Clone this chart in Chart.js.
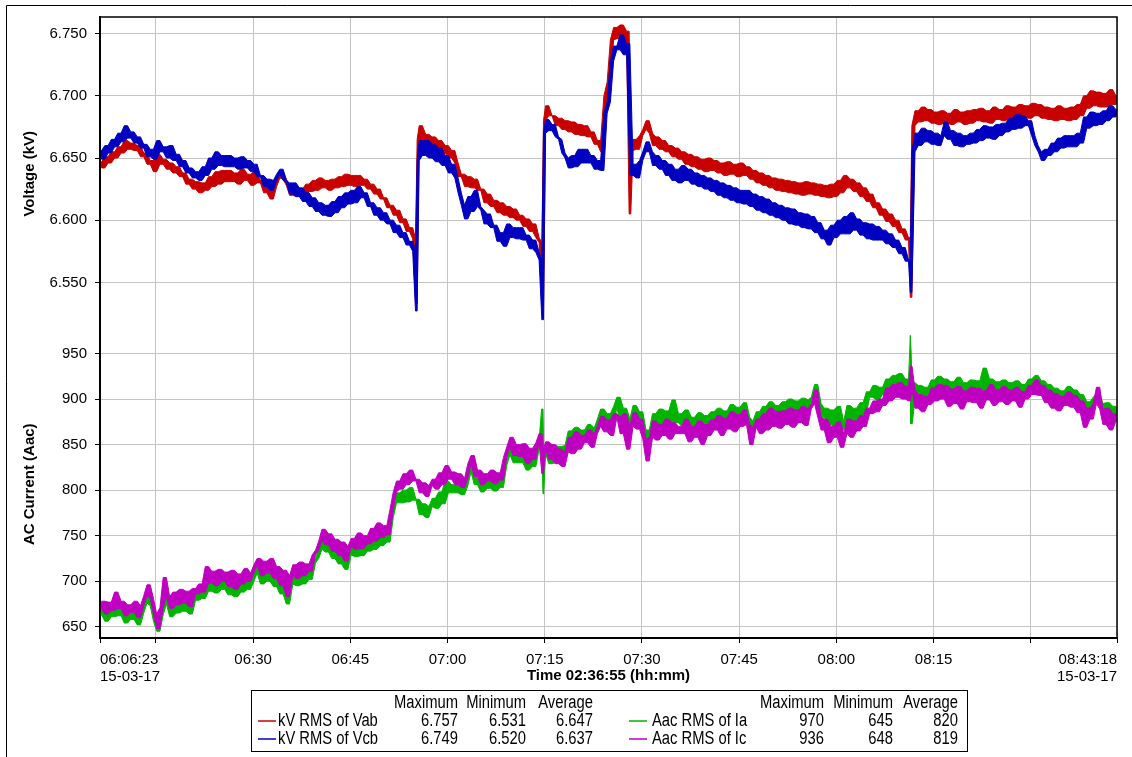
<!DOCTYPE html>
<html>
<head>
<meta charset="utf-8">
<script src="https://cdn.jsdelivr.net/npm/chart.js@4.4.1/dist/chart.umd.min.js"></script>
<style>
  html, body { margin: 0; padding: 0; background: #fff; overflow: hidden; }
  canvas { display: block; }
</style>
</head>
<body>
<canvas id="chart" width="1132" height="757"></canvas>
<script>
// Recording window and sampling
const startTime = '06:06:23';
const endTime = '08:43:18';
const recordDate = '15-03-17';
const sampleSeconds = 30;

// Time axis ticks between the two end stamps
const tickTimes = ['06:15', '06:30', '06:45', '07:00', '07:15', '07:30', '07:45', '08:00', '08:15', '08:30'];
const tickTimeLabels = ['', '06:30', '06:45', '07:00', '07:15', '07:30', '07:45', '08:00', '08:15', ''];
const kvTicks = [6.55, 6.60, 6.65, 6.70, 6.75];
const aacTicks = [650, 700, 750, 800, 850, 900, 950];

// kV RMS of Vab, one value every 30 s
const kvVab = [
  6.647, 6.642, 6.651, 6.646, 6.655, 6.650, 6.659, 6.654, 6.664, 6.657,
  6.662, 6.656, 6.660, 6.651, 6.654, 6.645, 6.648, 6.639, 6.653, 6.645,
  6.649, 6.641, 6.646, 6.638, 6.643, 6.635, 6.638, 6.629, 6.633, 6.625,
  6.631, 6.622, 6.630, 6.624, 6.635, 6.627, 6.639, 6.629, 6.640, 6.631,
  6.640, 6.631, 6.638, 6.629, 6.641, 6.632, 6.637, 6.628, 6.639, 6.630,
  6.632, 6.622, 6.628, 6.617, 6.627, 6.634, 6.640, 6.633, 6.628, 6.620,
  6.627, 6.619, 6.625, 6.617, 6.629, 6.623, 6.632, 6.624, 6.634, 6.626,
  6.632, 6.624, 6.633, 6.626, 6.635, 6.627, 6.637, 6.628, 6.636, 6.627,
  6.636, 6.628, 6.633, 6.625, 6.629, 6.621, 6.625, 6.617, 6.618, 6.610,
  6.612, 6.604, 6.608, 6.598, 6.601, 6.591, 6.594, 6.585, 6.665, 6.676,
  6.663, 6.669, 6.659, 6.667, 6.656, 6.664, 6.654, 6.660, 6.650, 6.656,
  6.646, 6.635, 6.637, 6.627, 6.635, 6.626, 6.633, 6.624, 6.625, 6.614,
  6.621, 6.611, 6.616, 6.606, 6.614, 6.604, 6.611, 6.602, 6.609, 6.600,
  6.604, 6.595, 6.601, 6.591, 6.597, 6.586, 6.582, 6.680, 6.692, 6.684,
  6.684, 6.676, 6.682, 6.673, 6.680, 6.671, 6.679, 6.669, 6.677, 6.668,
  6.676, 6.667, 6.671, 6.661, 6.664, 6.655, 6.700, 6.711, 6.745, 6.755,
  6.746, 6.757, 6.744, 6.752, 6.656, 6.665, 6.657, 6.668, 6.673, 6.680,
  6.670, 6.660, 6.667, 6.657, 6.664, 6.655, 6.660, 6.651, 6.658, 6.649,
  6.655, 6.645, 6.653, 6.643, 6.651, 6.641, 6.649, 6.639, 6.650, 6.640,
  6.648, 6.638, 6.646, 6.636, 6.647, 6.637, 6.645, 6.635, 6.646, 6.636,
  6.643, 6.633, 6.640, 6.630, 6.638, 6.628, 6.636, 6.626, 6.634, 6.624,
  6.633, 6.623, 6.632, 6.622, 6.631, 6.621, 6.630, 6.620, 6.631, 6.621,
  6.630, 6.620, 6.629, 6.619, 6.628, 6.618, 6.629, 6.619, 6.632, 6.622,
  6.636, 6.626, 6.633, 6.623, 6.630, 6.619, 6.626, 6.615, 6.621, 6.610,
  6.614, 6.604, 6.609, 6.599, 6.605, 6.595, 6.600, 6.590, 6.593, 6.584,
  6.586, 6.676, 6.688, 6.679, 6.691, 6.680, 6.689, 6.678, 6.687, 6.677,
  6.688, 6.678, 6.686, 6.677, 6.689, 6.679, 6.687, 6.677, 6.688, 6.678,
  6.689, 6.680, 6.690, 6.679, 6.688, 6.678, 6.691, 6.681, 6.689, 6.680,
  6.692, 6.682, 6.691, 6.681, 6.693, 6.683, 6.692, 6.682, 6.694, 6.684,
  6.693, 6.682, 6.691, 6.681, 6.690, 6.680, 6.692, 6.681, 6.690, 6.680,
  6.691, 6.681, 6.693, 6.684, 6.700, 6.690, 6.704, 6.692, 6.703, 6.691,
  6.702, 6.691, 6.705, 6.693, 6.700
];

// kV RMS of Vcb
const kvVcb = [
  6.656, 6.649, 6.660, 6.654, 6.665, 6.659, 6.670, 6.663, 6.676, 6.666,
  6.671, 6.662, 6.667, 6.658, 6.661, 6.651, 6.657, 6.649, 6.664, 6.655,
  6.659, 6.650, 6.660, 6.648, 6.653, 6.643, 6.648, 6.638, 6.642, 6.634,
  6.639, 6.632, 6.643, 6.636, 6.650, 6.641, 6.655, 6.644, 6.652, 6.643,
  6.652, 6.643, 6.650, 6.641, 6.651, 6.642, 6.648, 6.639, 6.645, 6.635,
  6.636, 6.627, 6.633, 6.624, 6.632, 6.637, 6.641, 6.632, 6.630, 6.621,
  6.630, 6.619, 6.626, 6.615, 6.622, 6.611, 6.618, 6.607, 6.614, 6.604,
  6.612, 6.603, 6.615, 6.606, 6.619, 6.610, 6.622, 6.613, 6.624, 6.614,
  6.627, 6.618, 6.622, 6.611, 6.614, 6.604, 6.610, 6.600, 6.606, 6.597,
  6.600, 6.590, 6.596, 6.586, 6.590, 6.580, 6.583, 6.575, 6.648, 6.664,
  6.652, 6.664, 6.650, 6.661, 6.647, 6.658, 6.644, 6.652, 6.638, 6.645,
  6.634, 6.622, 6.612, 6.601, 6.619, 6.607, 6.624, 6.611, 6.608, 6.597,
  6.605, 6.594, 6.596, 6.583, 6.590, 6.579, 6.597, 6.586, 6.594, 6.585,
  6.594, 6.584, 6.588, 6.577, 6.584, 6.574, 6.568, 6.670, 6.681, 6.672,
  6.677, 6.667, 6.665, 6.654, 6.650, 6.642, 6.652, 6.643, 6.657, 6.646,
  6.657, 6.646, 6.652, 6.641, 6.648, 6.640, 6.686, 6.695, 6.728, 6.740,
  6.737, 6.749, 6.733, 6.742, 6.636, 6.645, 6.634, 6.648, 6.655, 6.663,
  6.655, 6.644, 6.652, 6.641, 6.648, 6.636, 6.645, 6.632, 6.641, 6.630,
  6.644, 6.632, 6.641, 6.629, 6.638, 6.627, 6.636, 6.625, 6.634, 6.623,
  6.632, 6.620, 6.630, 6.618, 6.628, 6.616, 6.626, 6.614, 6.624, 6.613,
  6.624, 6.611, 6.621, 6.608, 6.619, 6.606, 6.617, 6.604, 6.614, 6.602,
  6.612, 6.600, 6.610, 6.597, 6.609, 6.596, 6.606, 6.594, 6.605, 6.593,
  6.603, 6.590, 6.598, 6.585, 6.592, 6.580, 6.596, 6.586, 6.600, 6.589,
  6.603, 6.589, 6.606, 6.592, 6.601, 6.588, 6.598, 6.585, 6.597, 6.584,
  6.595, 6.584, 6.592, 6.581, 6.589, 6.578, 6.584, 6.573, 6.578, 6.567,
  6.568, 6.655, 6.670, 6.660, 6.674, 6.663, 6.672, 6.661, 6.670, 6.660,
  6.668, 6.679, 6.665, 6.672, 6.660, 6.670, 6.659, 6.668, 6.661, 6.670,
  6.662, 6.673, 6.664, 6.676, 6.666, 6.675, 6.665, 6.677, 6.668, 6.678,
  6.671, 6.682, 6.673, 6.685, 6.674, 6.684, 6.676, 6.680, 6.668, 6.660,
  6.655, 6.648, 6.657, 6.652, 6.662, 6.655, 6.666, 6.658, 6.668, 6.659,
  6.668, 6.659, 6.670, 6.662, 6.683, 6.674, 6.687, 6.676, 6.686, 6.677,
  6.688, 6.680, 6.692, 6.683, 6.689
];

// Aac RMS of Ia
const aacIa = [
  663, 671, 656, 670, 661, 680, 662, 670, 654, 666,
  658, 670, 652, 665, 676, 688, 673, 656, 645, 663,
  696, 675, 661, 680, 665, 683, 667, 680, 664, 684,
  679, 690, 681, 707, 689, 702, 687, 704, 691, 701,
  685, 703, 683, 699, 688, 705, 691, 700, 709, 716,
  697, 713, 700, 715, 694, 706, 686, 702, 675, 697,
  710, 695, 712, 697, 710, 702, 720, 725, 735, 748,
  732, 744, 725, 737, 719, 734, 713, 729, 739, 727,
  745, 728, 742, 733, 750, 735, 756, 739, 752, 743,
  770, 786, 797, 786, 800, 787, 803, 789, 790, 773,
  785, 770, 782, 791, 780, 798, 785, 810, 797, 806,
  797, 810, 795, 805, 820, 829, 806, 813, 798, 809,
  802, 814, 799, 811, 803, 827, 839, 850, 830, 842,
  830, 844, 822, 839, 826, 845, 855, 840, 848, 829,
  849, 830, 848, 832, 849, 865, 846, 869, 851, 866,
  858, 872, 852, 868, 878, 889, 871, 884, 867, 892,
  902, 872, 890, 858, 878, 893, 874, 886, 866, 848,
  866, 884, 864, 889, 870, 887, 872, 899, 874, 884,
  870, 888, 862, 880, 866, 885, 859, 882, 869, 886,
  874, 890, 866, 887, 874, 894, 871, 891, 877, 896,
  880, 861, 876, 886, 870, 892, 874, 897, 879, 893,
  880, 897, 884, 900, 879, 898, 886, 901, 882, 899,
  902, 916, 895, 880, 890, 872, 888, 870, 892, 866,
  875, 893, 870, 890, 877, 896, 884, 908, 902, 915,
  899, 913, 905, 922, 908, 926, 910, 928, 909, 922,
  908, 918, 900, 915, 896, 913, 903, 921, 909, 925,
  910, 922, 903, 919, 906, 924, 900, 918, 908, 921,
  906, 920, 910, 934, 908, 922, 902, 919, 907, 921,
  903, 918, 906, 920, 899, 916, 908, 922, 911, 926,
  911, 920, 903, 916, 897, 912, 894, 909, 899, 914,
  898, 910, 892, 905, 878, 897, 886, 902, 906, 895,
  880, 896, 874, 892, 885
];

// Aac RMS of Ic
const aacIc = [
  670, 678, 664, 677, 668, 688, 670, 678, 662, 674,
  666, 678, 660, 673, 684, 696, 681, 664, 648, 671,
  704, 683, 670, 688, 674, 691, 676, 689, 672, 692,
  686, 697, 688, 716, 698, 711, 695, 713, 700, 710,
  694, 712, 691, 708, 697, 714, 700, 709, 718, 725,
  706, 722, 709, 725, 703, 716, 695, 712, 683, 706,
  718, 703, 721, 706, 719, 711, 729, 734, 744, 757,
  740, 752, 733, 746, 728, 743, 722, 738, 747, 735,
  753, 736, 750, 741, 758, 744, 764, 748, 761, 751,
  779, 798, 810, 801, 818, 806, 822, 810, 812, 797,
  808, 793, 805, 812, 801, 819, 806, 827, 812, 820,
  806, 818, 803, 813, 829, 838, 815, 822, 806, 818,
  810, 822, 807, 819, 811, 836, 847, 858, 838, 850,
  837, 851, 829, 846, 834, 852, 862, 845, 853, 834,
  850, 829, 845, 826, 842, 858, 840, 864, 845, 860,
  852, 866, 847, 862, 870, 881, 864, 877, 860, 884,
  880, 862, 884, 845, 870, 885, 867, 878, 856, 832,
  858, 876, 855, 872, 860, 878, 856, 874, 862, 870,
  862, 878, 853, 870, 858, 876, 850, 872, 860, 877,
  866, 882, 860, 879, 867, 886, 864, 883, 870, 888,
  872, 850, 869, 878, 862, 884, 866, 890, 870, 886,
  868, 887, 872, 890, 869, 888, 874, 892, 871, 889,
  895, 910, 880, 866, 878, 852, 870, 858, 875, 847,
  862, 878, 858, 876, 865, 882, 870, 890, 884, 898,
  886, 900, 893, 912, 898, 916, 902, 918, 900, 914,
  898, 910, 890, 905, 886, 903, 894, 912, 898, 916,
  900, 915, 892, 911, 895, 914, 889, 909, 897, 913,
  896, 912, 890, 909, 899, 916, 893, 910, 897, 914,
  894, 910, 898, 913, 891, 908, 900, 915, 905, 921,
  904, 915, 896, 910, 890, 906, 887, 903, 893, 908,
  891, 904, 885, 898, 869, 890, 878, 895, 913, 889,
  872, 890, 866, 884, 876
];

// Short transients caught between samples (time, value)
const vabSpikes = [['06:55:15', 6.533], ['07:14:44', 6.531], ['07:28:10', 6.605], ['08:11:25', 6.538]];
const vcbSpikes = [['06:55:15', 6.527], ['07:14:44', 6.520], ['08:11:25', 6.542]];
const iaSpikes = [['07:14:40', 889], ['07:14:48', 796], ['08:11:26', 970], ['08:11:32', 873]];
const icSpikes = [['07:14:44', 818], ['08:11:28', 936]];

// Summary table
const seriesNames = ['kV RMS of Vab', 'kV RMS of Vcb', 'Aac RMS of Ia', 'Aac RMS of Ic'];
const statHeaders = ['Maximum', 'Minimum', 'Average'];
const statMax = ['6.757', '6.749', '970', '936'];
const statMin = ['6.531', '6.520', '645', '648'];
const statAvg = ['6.647', '6.637', '820', '819'];

const seriesColors = ['#c80000', '#0000c0', '#00b400', '#c000c0'];
const FONT = '"Liberation Sans", Arial, Helvetica, sans-serif';

const toMin = s => {
  const [h, m, sec] = s.split(':').map(Number);
  return h * 60 + m + (sec || 0) / 60;
};
const t0 = toMin(startTime);
const t1 = toMin(endTime);

// Readings plus transients, in time order
function readings(values, spikes) {
  const pts = values.map((y, i) => ({ x: t0 + i * sampleSeconds / 60, y }));
  spikes.forEach(([t, y]) => pts.push({ x: toMin(t), y }));
  return pts.sort((a, b) => a.x - b.x);
}

// Spread of each pair of neighbouring readings: the trace is drawn as the
// band it sweeps out, with its upper and lower edges as two lines
function band(values, spikes) {
  const pts = readings(values, spikes);
  const upper = [{ x: pts[0].x, y: pts[0].y }];
  const lower = [{ x: pts[0].x, y: pts[0].y }];
  for (let i = 0; i + 1 < pts.length; i++) {
    const a = pts[i], b = pts[i + 1];
    const x = (a.x + b.x) / 2;
    upper.push({ x, y: Math.max(a.y, b.y) });
    lower.push({ x, y: Math.min(a.y, b.y) });
  }
  const last = pts[pts.length - 1];
  upper.push({ x: last.x, y: last.y });
  lower.push({ x: last.x, y: last.y });
  return { upper, lower };
}

const xTickValues = [t0, ...tickTimes.map(toMin), t1];

Chart.defaults.font.family = FONT;
Chart.defaults.font.size = 15;
Chart.defaults.color = '#000';

const gridColor = '#c4c4c4';

// White page, outer frame, and the plot frame drawn over the traces
const framePlugin = {
  id: 'frames',
  beforeDraw(chart) {
    const ctx = chart.ctx;
    ctx.save();
    ctx.fillStyle = '#fff';
    ctx.fillRect(0, 0, chart.width, chart.height);
    ctx.strokeStyle = '#000';
    ctx.lineWidth = 1;
    ctx.beginPath();
    ctx.moveTo(6.5, chart.height);
    ctx.lineTo(6.5, 5.5);
    ctx.lineTo(chart.width, 5.5);
    ctx.stroke();
    ctx.restore();
  },
  afterDatasetsDraw(chart) {
    const a = chart.chartArea;
    const ctx = chart.ctx;
    ctx.save();
    ctx.strokeStyle = '#000';
    ctx.lineWidth = 1.5;
    ctx.strokeRect(a.left, a.top, a.right - a.left, a.bottom - a.top);
    ctx.restore();
  }
};

// Statistics table under the time axis
const statsPlugin = {
  id: 'statsTable',
  afterDraw(chart) {
    const ctx = chart.ctx;
    ctx.save();
    ctx.strokeStyle = '#000';
    ctx.lineWidth = 1;
    ctx.strokeRect(251.5, 690.5, 716, 61);
    ctx.fillStyle = '#000';
    ctx.textBaseline = 'middle';
    ctx.font = '18px ' + FONT;
    const put = (text, x, y, align) => {
      ctx.save();
      ctx.translate(x, y);
      ctx.scale(0.82, 1);
      ctx.textAlign = align;
      ctx.fillText(text, 0, 0);
      ctx.restore();
    };
    const groups = [
      { swatch: 258, name: 278, cols: [458, 526, 593], rows: [0, 1] },
      { swatch: 629, name: 652, cols: [824, 893, 958], rows: [2, 3] }
    ];
    groups.forEach(g => {
      statHeaders.forEach((h, k) => put(h, g.cols[k], 703, 'right'));
      g.rows.forEach((s, r) => {
        const y = 721 + r * 18;
        ctx.strokeStyle = seriesColors[s];
        ctx.lineWidth = 1.5;
        ctx.beginPath();
        ctx.moveTo(g.swatch, y);
        ctx.lineTo(g.swatch + 18, y);
        ctx.stroke();
        put(seriesNames[s], g.name, y, 'left');
        [statMax[s], statMin[s], statAvg[s]].forEach((v, k) => put(v, g.cols[k], y, 'right'));
      });
    });
    ctx.restore();
  }
};

const yCommon = {
  position: 'left',
  stack: 'panels',
  border: { color: '#000', width: 2 },
  grid: { color: gridColor, lineWidth: 1, tickLength: 5, tickColor: '#000' },
  afterFit: s => { s.width = 100; }
};

// Upper edge, then lower edge filled up to it; lower order is painted on top
function traceDatasets(k, values, spikes, axis, order) {
  const b = band(values, spikes);
  return [
    { label: seriesNames[k], data: b.upper, yAxisID: axis, borderColor: seriesColors[k], order, fill: false },
    { label: seriesNames[k], data: b.lower, yAxisID: axis, borderColor: seriesColors[k], backgroundColor: seriesColors[k], order, fill: '-1' }
  ];
}

new Chart(document.getElementById('chart'), {
  type: 'line',
  data: {
    datasets: [
      ...traceDatasets(1, kvVcb, vcbSpikes, 'kv', 0),
      ...traceDatasets(0, kvVab, vabSpikes, 'kv', 1),
      ...traceDatasets(3, aacIc, icSpikes, 'aac', 2),
      ...traceDatasets(2, aacIa, iaSpikes, 'aac', 3)
    ]
  },
  options: {
    responsive: false,
    animation: false,
    events: [],
    elements: {
      point: { radius: 0 },
      line: { borderWidth: 1, tension: 0 }
    },
    layout: { padding: { top: 16, right: 15, left: 0, bottom: 0 } },
    plugins: { legend: { display: false }, tooltip: { enabled: false } },
    scales: {
      x: {
        type: 'linear',
        min: t0,
        max: t1,
        border: { color: '#000', width: 2 },
        grid: { color: gridColor, lineWidth: 1, tickLength: 5, tickColor: '#000' },
        afterBuildTicks: s => { s.ticks = xTickValues.map(v => ({ value: v })); },
        afterFit: s => { s.height = 119; },
        ticks: {
          autoSkip: false,
          maxRotation: 0,
          align: 'inner',
          padding: 8,
          font: { size: 15, lineHeight: 1.15 },
          callback: (v, i, ticks) => {
            if (i === 0) return [startTime, recordDate];
            if (i === ticks.length - 1) return [endTime, recordDate];
            return tickTimeLabels[i - 1];
          }
        },
        title: {
          display: true,
          text: 'Time 02:36:55 (hh:mm)',
          font: { size: 15, weight: 'bold', lineHeight: 1.2 },
          padding: { top: 0, bottom: 72 }
        }
      },
      aac: Object.assign({}, yCommon, {
        stackWeight: 308,
        min: 637.6,
        max: 975.3,
        afterBuildTicks: s => { s.ticks = aacTicks.map(v => ({ value: v })); },
        ticks: { padding: 8, callback: v => String(v) },
        title: { display: true, text: 'AC Current (Aac)', font: { size: 15, weight: 'bold', lineHeight: 1.2 }, padding: { top: 21, bottom: 0 } }
      }),
      kv: Object.assign({}, yCommon, {
        stackWeight: 314,
        min: 6.5113,
        max: 6.7634,
        afterBuildTicks: s => { s.ticks = kvTicks.map(v => ({ value: v })); },
        ticks: { padding: 8, callback: v => Number(v).toFixed(3) },
        title: { display: true, text: 'Voltage (kV)', font: { size: 15, weight: 'bold', lineHeight: 1.2 }, padding: { top: 21, bottom: 0 } }
      })
    }
  },
  plugins: [framePlugin, statsPlugin]
});
</script>
</body>
</html>
